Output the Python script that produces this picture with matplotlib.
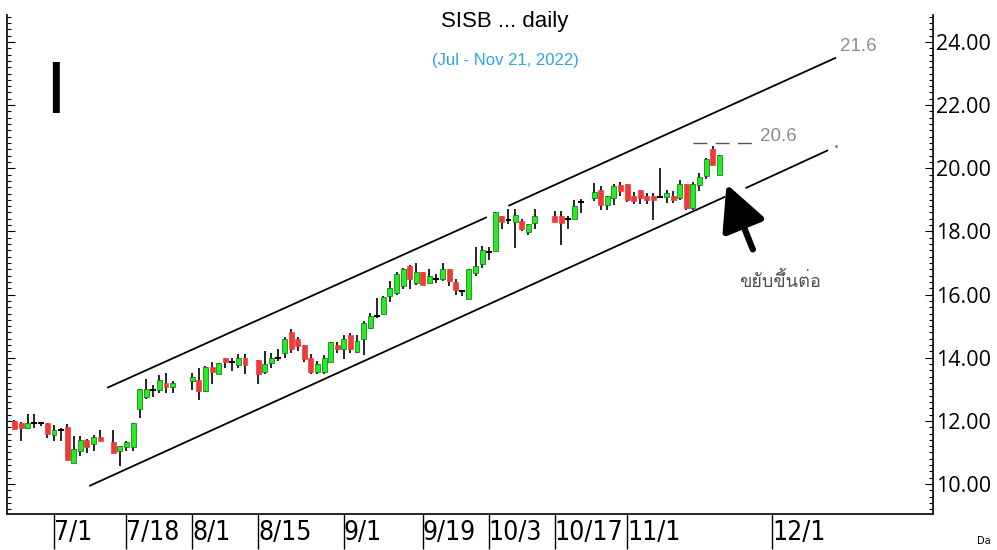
import numpy as np
import matplotlib
matplotlib.use('Agg')
import matplotlib.pyplot as plt
from matplotlib import font_manager, ft2font

# daily candles (weekday axis, holidays left out)
dates = ['2022-06-23', '2022-06-24', '2022-06-27', '2022-06-28', '2022-06-29', '2022-06-30',
         '2022-07-01', '2022-07-04', '2022-07-05', '2022-07-06', '2022-07-07', '2022-07-08',
         '2022-07-11', '2022-07-12', '2022-07-14', '2022-07-15', '2022-07-18', '2022-07-19',
         '2022-07-20', '2022-07-21', '2022-07-22', '2022-07-25', '2022-07-26', '2022-07-27',
         '2022-08-01', '2022-08-02', '2022-08-03', '2022-08-04', '2022-08-05', '2022-08-08',
         '2022-08-09', '2022-08-10', '2022-08-11', '2022-08-15', '2022-08-16', '2022-08-17',
         '2022-08-18', '2022-08-19', '2022-08-22', '2022-08-23', '2022-08-24', '2022-08-25',
         '2022-08-26', '2022-08-29', '2022-08-30', '2022-08-31', '2022-09-01', '2022-09-02',
         '2022-09-05', '2022-09-06', '2022-09-07', '2022-09-08', '2022-09-09', '2022-09-12',
         '2022-09-13', '2022-09-14', '2022-09-15', '2022-09-16', '2022-09-19', '2022-09-20',
         '2022-09-21', '2022-09-22', '2022-09-23', '2022-09-26', '2022-09-27', '2022-09-28',
         '2022-09-29', '2022-09-30', '2022-10-03', '2022-10-04', '2022-10-05', '2022-10-06',
         '2022-10-07', '2022-10-10', '2022-10-11', '2022-10-12', '2022-10-17', '2022-10-18',
         '2022-10-19', '2022-10-20', '2022-10-21', '2022-10-25', '2022-10-26', '2022-10-27',
         '2022-10-28', '2022-10-31', '2022-11-01', '2022-11-02', '2022-11-03', '2022-11-04',
         '2022-11-07', '2022-11-08', '2022-11-09', '2022-11-10', '2022-11-11', '2022-11-14',
         '2022-11-15', '2022-11-16', '2022-11-17', '2022-11-18', '2022-11-21']
opens = [12.00, 11.92, 11.78, 11.92, 11.92, 11.92, 11.56, 11.72, 11.81, 10.66, 11.05, 11.40,
         11.26, 11.50, 11.32, 11.05, 11.16, 11.16, 12.37, 12.77, 12.98, 12.98, 13.21, 13.07,
         13.26, 13.30, 12.95, 13.71, 13.48, 14.00, 13.87, 13.77, 14.00, 13.92, 13.55, 13.84,
         14.00, 14.16, 14.81, 14.60, 14.40, 14.00, 13.56, 13.56, 13.87, 14.40, 14.27, 14.71,
         14.18, 14.58, 14.95, 15.32, 15.37, 15.95, 16.06, 16.27, 16.92, 16.37, 16.71, 16.37,
         16.50, 16.50, 16.82, 16.39, 16.11, 15.87, 16.67, 16.98, 17.34, 17.37, 18.50, 18.37,
         18.29, 18.32, 17.97, 18.27, 18.50, 18.50, 18.40, 18.40, 18.92, 19.06, 19.32, 18.85,
         19.06, 19.48, 19.51, 19.11, 19.32, 19.13, 19.13, 19.08, 19.08, 19.13, 19.06, 19.51,
         18.74, 19.48, 19.76, 20.61, 19.80]
highs = [12.02, 11.96, 12.21, 12.21, 11.96, 11.94, 11.86, 11.79, 11.90, 11.53, 11.53, 11.42,
         11.55, 11.72, 11.72, 11.21, 11.37, 11.92, 13.02, 13.32, 13.13, 13.44, 13.53, 13.26,
         13.53, 13.68, 13.74, 13.85, 13.82, 14.00, 14.00, 14.11, 14.11, 13.92, 14.21, 14.16,
         14.27, 14.67, 14.90, 14.67, 14.40, 14.11, 13.90, 14.08, 14.51, 14.49, 14.71, 14.79,
         14.71, 15.15, 15.42, 15.90, 15.95, 16.42, 16.71, 16.85, 16.95, 17.00, 16.71, 16.82,
         16.64, 17.00, 16.82, 16.50, 16.16, 16.82, 17.51, 17.55, 17.51, 18.60, 18.50, 18.71,
         18.71, 18.40, 18.25, 18.71, 18.64, 18.64, 18.48, 19.00, 19.03, 19.53, 19.43, 19.11,
         19.51, 19.58, 19.51, 19.24, 19.32, 19.22, 19.22, 20.00, 19.32, 19.27, 19.62, 19.51,
         19.58, 19.85, 20.32, 20.71, 20.43]
lows = [11.70, 11.37, 11.76, 11.78, 11.85, 11.47, 11.37, 11.37, 10.76, 10.66, 10.89, 10.98,
        11.05, 11.37, 10.97, 10.58, 11.05, 11.05, 12.08, 12.68, 12.77, 12.87, 12.87, 12.87,
        12.98, 12.66, 12.90, 13.16, 13.48, 13.66, 13.58, 13.66, 13.48, 13.16, 13.48, 13.66,
        13.90, 14.00, 14.16, 14.21, 13.86, 13.48, 13.48, 13.48, 13.85, 14.16, 13.97, 14.16,
        14.16, 14.08, 14.90, 15.27, 15.37, 15.76, 16.00, 16.18, 16.18, 16.29, 16.29, 16.37,
        16.37, 16.42, 16.27, 16.00, 15.95, 15.87, 16.58, 16.85, 17.11, 17.37, 18.08, 18.22,
        17.48, 18.00, 17.88, 18.08, 18.29, 17.58, 18.08, 18.40, 18.59, 18.95, 18.67, 18.67,
        18.85, 19.11, 18.92, 18.88, 18.88, 18.88, 18.37, 19.06, 18.90, 18.90, 19.00, 18.67,
        18.67, 19.27, 19.66, 20.11, 19.80]
closes = [11.75, 11.78, 11.92, 11.92, 11.92, 11.58, 11.71, 11.72, 10.76, 11.10, 11.40, 11.16,
          11.50, 11.37, 10.97, 11.19, 11.32, 11.92, 13.02, 13.00, 12.98, 13.30, 13.07, 13.21,
          13.39, 12.95, 13.71, 13.56, 13.82, 13.86, 13.87, 14.00, 13.77, 13.48, 13.79, 14.00,
          14.00, 14.60, 14.27, 14.37, 13.97, 13.56, 13.79, 14.00, 14.51, 14.27, 14.58, 14.27,
          14.53, 15.11, 15.32, 15.32, 15.92, 16.21, 16.64, 16.82, 16.48, 16.71, 16.29, 16.60,
          16.50, 16.82, 16.42, 16.16, 16.11, 16.82, 16.92, 17.40, 17.34, 18.60, 18.29, 18.37,
          18.53, 18.08, 18.22, 18.50, 18.29, 18.27, 18.40, 18.82, 18.92, 19.24, 18.85, 19.11,
          19.43, 19.27, 19.00, 18.95, 19.06, 18.98, 18.98, 19.08, 19.22, 18.98, 19.51, 18.74,
          19.51, 19.71, 20.29, 20.11, 20.43]

tick_dates = ['2022-07-01', '2022-07-18', '2022-08-01', '2022-08-15', '2022-09-01',
              '2022-09-19', '2022-10-03', '2022-10-17', '2022-11-01', '2022-12-01']
tick_labels = ['7/1', '7/18', '8/1', '8/15', '9/1', '9/19', '10/3', '10/17', '11/1', '12/1']

# channel lines (x in trading-day units from 7/1)
upper_x = [[8.2, 65.6], [69.1, 118.6]]
upper_y = [[13.06, 18.44], [18.82, 23.49]]
lower_x = [[5.47, 101.8], [105.1, 117.4]]
lower_y = [[9.95, 19.09], [19.38, 20.56]]
resist_x = [97.0, 106.1]
resist_y = 20.79


def thai_font():
    for f in font_manager.fontManager.ttflist:
        try:
            if 0x0E02 in ft2font.FT2Font(f.fname).get_charmap():
                return f.name
        except Exception:
            pass
    return 'DejaVu Sans'


def narrow_font():
    for f in font_manager.fontManager.ttflist:
        n = (f.name + ' ' + f.fname).lower()
        if ('narrow' in n or 'condensed' in n) and f.style == 'normal' \
                and f.weight in (400, 'normal', 'regular') \
                and 'mono' not in n and 'serif' not in f.name.lower() \
                and 'oblique' not in n and 'italic' not in n and 'bold' not in n:
            return font_manager.FontProperties(fname=f.fname)
    return None


x = np.busday_count('2022-07-01', dates)
o = np.array(opens)
h = np.array(highs)
l = np.array(lows)
c = np.array(closes)

fig = plt.figure(figsize=(9.97, 5.5), dpi=100)
ax = fig.add_axes([7 / 997, 36 / 550, 926 / 997, 499 / 550])

ax.vlines(x, l, h, color='black', lw=1.2, zorder=1)
doji = np.abs(c - o) < 0.02
up = (c > o) & ~doji
dn = (c < o) & ~doji
ax.bar(x[up], (c - o)[up], bottom=o[up], width=0.75, color='#22ee22',
       edgecolor='#116611', linewidth=0.5, zorder=2)
ax.bar(x[dn], (o - c)[dn], bottom=c[dn], width=0.75, color='#f03a3a',
       edgecolor='#f03a3a', linewidth=0.5, zorder=2)
ax.hlines(c[doji], x[doji] - 0.45, x[doji] + 0.45, color='black', lw=1.5, zorder=2)

for xs, ys in zip(upper_x, upper_y):
    ax.plot(xs, ys, color='black', lw=1.3)
for xs, ys in zip(lower_x, lower_y):
    ax.plot(xs, ys, color='black', lw=1.3)
ax.plot(118.7, 20.71, marker='.', ms=2, color='#777777')
ax.hlines(resist_y, resist_x[0], resist_x[1], color='#555555', lw=1,
          linestyles=(0, (10, 6)))

ax.text(119.3, 23.84, '21.6', color='#8c8c8c', fontsize=13.5, va='center',
        family='Liberation Sans')
ax.text(107.2, 21.0, '20.6', color='#8c8c8c', fontsize=13.5, va='center',
        family='Liberation Sans')

ax.annotate('', xy=(102.1, 19.5), xytext=(106.1, 17.43),
            arrowprops=dict(arrowstyle='-|>,head_length=1.1,head_width=0.55',
                            lw=4.5, color='black', mutation_scale=25,
                            shrinkA=0, shrinkB=0))
ax.text(110.2, 16.43, 'ขยับขึ้นต่อ', color='#505050', fontsize=13, ha='center',
        va='center', family=[thai_font(), 'DejaVu Sans'])

ax.set_xlim(-7.135, 133.45)
ax.set_ylim(9.052, 24.853)

ax.spines['top'].set_visible(False)
for s in ['left', 'right', 'bottom']:
    ax.spines[s].set_linewidth(1.2)

ax.set_yticks(np.arange(10, 25, 2))
ax.set_yticklabels(['%.2f' % v for v in np.arange(10, 25, 2)])
ax.set_yticks(np.arange(9.2, 24.85, 0.2), minor=True)
ax.tick_params(axis='y', which='both', direction='in', left=True, right=True,
               labelleft=False, labelright=True, width=0.8)
ax.tick_params(axis='y', which='major', length=6, pad=2, labelsize=15.5)
ax.tick_params(axis='y', which='minor', length=3)
for lab in ax.get_yticklabels():
    lab.set_family(['Open Sans', 'DejaVu Sans'])

ax.set_xticks(np.busday_count('2022-07-01', tick_dates))
ax.set_xticklabels(tick_labels)
nf = narrow_font()
ax.tick_params(axis='x', direction='out', length=25, width=1, pad=-21, labelsize=16.5)
for lab in ax.get_xticklabels():
    lab.set_horizontalalignment('left')
    if nf is not None:
        lab.set_fontproperties(nf)
        lab.set_fontsize(19)
    else:
        lab.set_family(['Open Sans', 'DejaVu Sans'])
ax.xaxis.get_major_ticks()[1].tick1line.set_color('#888888')

fig.text(505 / 997, 1 - 22 / 550, 'SISB ... daily', ha='center', va='center',
         fontsize=16, family='Liberation Sans')
fig.text(505 / 997, 1 - 60 / 550, '(Jul - Nov 21, 2022)', ha='center', va='center',
         fontsize=12, color='#29a6e3', family='Liberation Sans')
fig.text(45 / 997, 1 - 113 / 550, 'I', fontsize=54, va='baseline', family='Liberation Sans')
fig.text(977 / 997, 1 - 541 / 550, 'Da', fontsize=7, va='center')

fig.savefig('out.png', dpi=100)
